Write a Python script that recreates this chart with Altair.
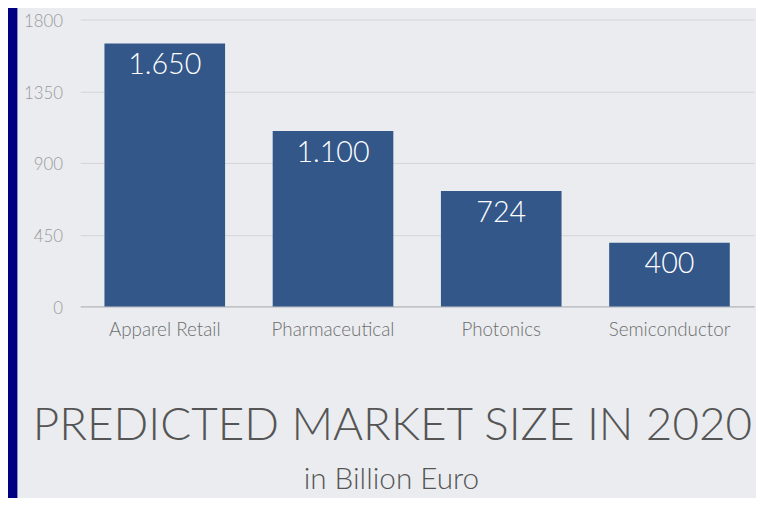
import altair as alt
import pandas as pd

categories = ["Apparel Retail", "Pharmaceutical", "Photonics", "Semiconductor"]
values = [1650, 1100, 724, 400]
value_labels = ["1.650", "1.100", "724", "400"]
y_ticks = [0, 450, 900, 1350, 1800]
title_text = "PREDICTED MARKET SIZE IN 2020"
subtitle_text = "in Billion Euro"

df = pd.DataFrame({"cat": categories, "val": values, "lab": value_labels})
one = pd.DataFrame({"t": [title_text], "s": [subtitle_text]})

FONT = "Lato"
BAR = "#34578a"

x_enc = alt.X(
    "cat:N", sort=categories, title=None,
    scale=alt.Scale(paddingInner=0.283, paddingOuter=0.144),
    axis=alt.Axis(labelAngle=0, labelFont=FONT, labelFontSize=19, labelFontWeight=300,
                  labelColor="#6e6e6e", ticks=False, tickSize=0, labelPadding=14,
                  domain=True, domainColor="#b9bbbe", domainWidth=1.2, grid=False),
)
y_enc = alt.Y(
    "val:Q", title=None,
    scale=alt.Scale(domain=[0, 1800], nice=False),
    axis=alt.Axis(values=y_ticks, format="d", labelFont=FONT, labelFontSize=17,
                  labelFontWeight=300, labelColor="#9a9a9a", ticks=False, tickSize=0,
                  labelPadding=18, domain=False, grid=True, gridColor="#d3d5d9",
                  gridWidth=1, labelOffset=2),
)

bars = alt.Chart(df).mark_bar(color=BAR).encode(x=x_enc, y=y_enc)

labels = alt.Chart(df).mark_text(
    color="white", font=FONT, fontSize=29, fontWeight=300,
    baseline="alphabetic", dy=31,
).encode(x=alt.X("cat:N", sort=categories), y=alt.Y("val:Q"), text="lab:N")

navy = alt.Chart(one).mark_rect(color="#000082").encode(
    x=alt.value(-82), x2=alt.value(-63.5), y=alt.value(-30), y2=alt.value(500)
)

title = alt.Chart(one).mark_text(
    font=FONT, fontSize=46.3, fontWeight=300, color="#555555",
    align="center", baseline="alphabetic",
).encode(x=alt.value(315.5), y=alt.value(424.5), text="t:N")

subtitle = alt.Chart(one).mark_text(
    font=FONT, fontSize=30, fontWeight=300, color="#555555",
    align="center", baseline="alphabetic",
).encode(x=alt.value(314.5), y=alt.value(475), text="s:N")

chart = alt.layer(navy, bars, labels, title, subtitle).properties(
    width=681, height=290,
    autosize=alt.AutoSizeParams(type="none"),
    padding={"left": 73, "top": 9, "right": 2, "bottom": 191},
    background="#eaecef",
).configure_view(stroke=None)

chart.save("out.html", embed_options={"renderer": "svg", "actions": False})
